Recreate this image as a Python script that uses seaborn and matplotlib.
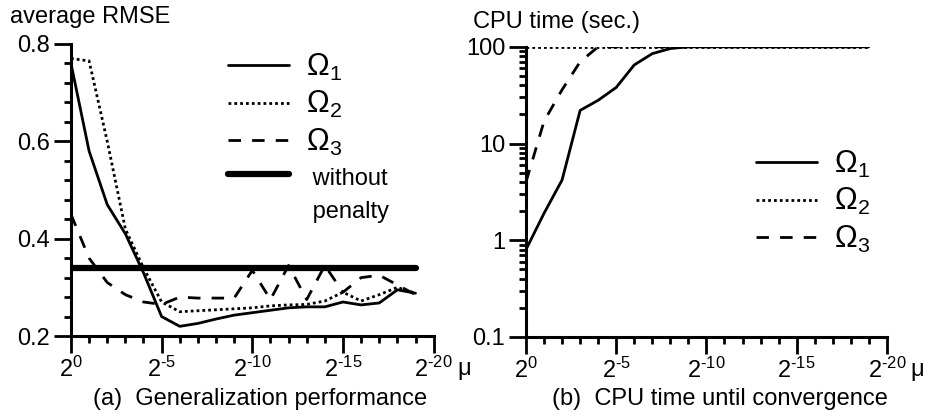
import numpy as np
import pandas as pd
import matplotlib
matplotlib.use("Agg")
import matplotlib.pyplot as plt
import seaborn as sns
from matplotlib.ticker import FixedLocator, MultipleLocator, LogLocator, NullFormatter

# ---- data (exponent k means mu = 2^-k) ----
mu_exp = list(range(20))

rmse_omega1 = [0.76, 0.58, 0.47, 0.41, 0.33, 0.24, 0.22, 0.226, 0.235, 0.243,
               0.248, 0.253, 0.258, 0.26, 0.26, 0.27, 0.264, 0.268, 0.295, 0.288]
rmse_omega2 = [0.77, 0.765, 0.60, 0.42, 0.34, 0.27, 0.25, 0.252, 0.254, 0.256,
               0.258, 0.262, 0.264, 0.265, 0.272, 0.29, 0.272, 0.285, 0.30, 0.288]
rmse_omega3 = [0.45, 0.36, 0.31, 0.285, 0.27, 0.265, 0.28, 0.278, 0.278, 0.278,
               0.335, 0.275, 0.345, 0.275, 0.345, 0.29, 0.32, 0.325, 0.305, 0.285]
no_penalty_x = [0, 19]
no_penalty_rmse = [0.34, 0.34]

cpu_omega1 = [0.8, 1.9, 4.2, 22, 28, 38, 65, 85, 96, 100,
              100, 100, 100, 100, 100, 100, 100, 100, 100, 100]
cpu_omega2 = [100, 100, 100, 100, 100, 100, 100, 100, 100, 100,
              100, 100, 100, 100, 100, 100, 100, 100, 100, 100]
cpu_omega3 = [4.0, 17, 36, 70, 100, 100, 100, 100, 100, 100,
              100, 100, 100, 100, 100, 100, 100, 100, 100, 100]

xtick_pos = [0, 5, 10, 15, 20]
xtick_labels = [r"$\mathregular{2^{0}}$", r"$\mathregular{2^{\text{-}5}}$",
                r"$\mathregular{2^{\text{-}10}}$", r"$\mathregular{2^{\text{-}15}}$",
                r"$\mathregular{2^{\text{-}20}}$"]
rmse_ticks = [0.2, 0.4, 0.6, 0.8]
cpu_ticks = [0.1, 1, 10, 100]
cpu_tick_labels = ["0.1", "1", "10", "100"]

# ---- style ----
sns.set_theme(style="ticks")
plt.rcParams["font.family"] = ["Liberation Sans", "DejaVu Sans"]
plt.rcParams["mathtext.fontset"] = "custom"
plt.rcParams["mathtext.rm"] = "Liberation Sans"
plt.rcParams["mathtext.it"] = "Liberation Sans"
plt.rcParams["text.color"] = "black"
plt.rcParams["axes.edgecolor"] = "black"
plt.rcParams["xtick.color"] = "black"
plt.rcParams["ytick.color"] = "black"

FS = 17
LW = 2.0
solid = "-"
dotted = (0, (1, 1.1))
dashed = (0, (4.5, 4))

fig = plt.figure(figsize=(9.3, 4.18), dpi=100)
ax1 = fig.add_axes([0.0763, 0.196, 0.390, 0.699])
ax2 = fig.add_axes([0.5656, 0.194, 0.388, 0.694])


def style_axis(ax):
    for s in ["top", "right"]:
        ax.spines[s].set_visible(False)
    for s in ["left", "bottom"]:
        ax.spines[s].set_linewidth(2.2)
    ax.set_xlim(0, 20)
    ax.xaxis.set_major_locator(FixedLocator(xtick_pos))
    ax.xaxis.set_minor_locator(MultipleLocator(1))
    ax.set_xticklabels(xtick_labels, fontsize=FS)
    ax.tick_params(which="major", length=12, width=2, direction="out", pad=3, labelsize=FS)
    ax.tick_params(which="minor", length=5, width=2, direction="out")
    ax.set_xlabel("")
    ax.set_ylabel("")
    ax.text(1.0 + 31 / 363, -0.075, "μ", transform=ax.transAxes, fontsize=FS,
            ha="center", va="top")


# ---- (a) generalization performance ----
sns.lineplot(x=mu_exp, y=rmse_omega1, ax=ax1, color="black", lw=LW, linestyle=solid,
             label=r"$\mathregular{\Omega_1}$")
sns.lineplot(x=mu_exp, y=rmse_omega2, ax=ax1, color="black", lw=LW, linestyle=dotted,
             label=r"$\mathregular{\Omega_2}$")
sns.lineplot(x=mu_exp, y=rmse_omega3, ax=ax1, color="black", lw=LW, linestyle=dashed,
             label=r"$\mathregular{\Omega_3}$")
sns.lineplot(x=no_penalty_x, y=no_penalty_rmse, ax=ax1, color="black", lw=4.5,
             linestyle=solid, label=" without")
style_axis(ax1)
ax1.set_ylim(0.2, 0.8)
ax1.yaxis.set_major_locator(FixedLocator(rmse_ticks))
ax1.yaxis.set_minor_locator(MultipleLocator(0.04))
ax1.set_yticklabels([f"{t:.1f}" for t in rmse_ticks], fontsize=FS)

handles, labels = ax1.get_legend_handles_labels()
blank = plt.Line2D([], [], color="none")
leg1 = ax1.legend(handles + [blank], labels + [" penalty"], loc="upper left",
                  bbox_to_anchor=(0.39, 1.024), frameon=False, fontsize=22,
                  handlelength=2.0, handletextpad=0.55, labelspacing=0.2, borderpad=0)
for t in leg1.get_texts()[3:]:
    t.set_fontsize(FS)

# ---- (b) CPU time ----
sns.lineplot(x=mu_exp, y=cpu_omega3, ax=ax2, color="black", lw=LW, linestyle=dashed,
             label=r"$\mathregular{\Omega_3}$")
sns.lineplot(x=mu_exp, y=cpu_omega2, ax=ax2, color="black", lw=LW, linestyle=dotted,
             label=r"$\mathregular{\Omega_2}$")
sns.lineplot(x=mu_exp, y=cpu_omega1, ax=ax2, color="black", lw=LW, linestyle=solid,
             label=r"$\mathregular{\Omega_1}$")
style_axis(ax2)
ax2.set_yscale("log")
ax2.set_ylim(0.1, 100)
ax2.yaxis.set_major_locator(FixedLocator(cpu_ticks))
ax2.yaxis.set_minor_locator(LogLocator(base=10, subs=np.arange(2, 10)))
ax2.yaxis.set_minor_formatter(NullFormatter())
ax2.set_yticklabels(cpu_tick_labels, fontsize=FS)

h2, l2 = ax2.get_legend_handles_labels()
ax2.legend(h2[::-1], l2[::-1], loc="upper left", bbox_to_anchor=(0.595, 0.70),
           frameon=False, fontsize=22, handlelength=2.0, handletextpad=0.55,
           labelspacing=0.2, borderpad=0)

# ---- titles / captions ----
fig.text(10 / 930, 1 - 23 / 418, "average RMSE", fontsize=FS, va="baseline", ha="left")
fig.text(473 / 930, 1 - 28 / 418, "CPU time (sec.)", fontsize=FS, va="baseline", ha="left")
fig.text(260 / 930, 1 - 405 / 418, "(a)  Generalization performance", fontsize=FS,
         va="baseline", ha="center")
fig.text(720 / 930, 1 - 405 / 418, "(b)  CPU time until convergence", fontsize=FS,
         va="baseline", ha="center")

fig.savefig("out.png", dpi=100)
